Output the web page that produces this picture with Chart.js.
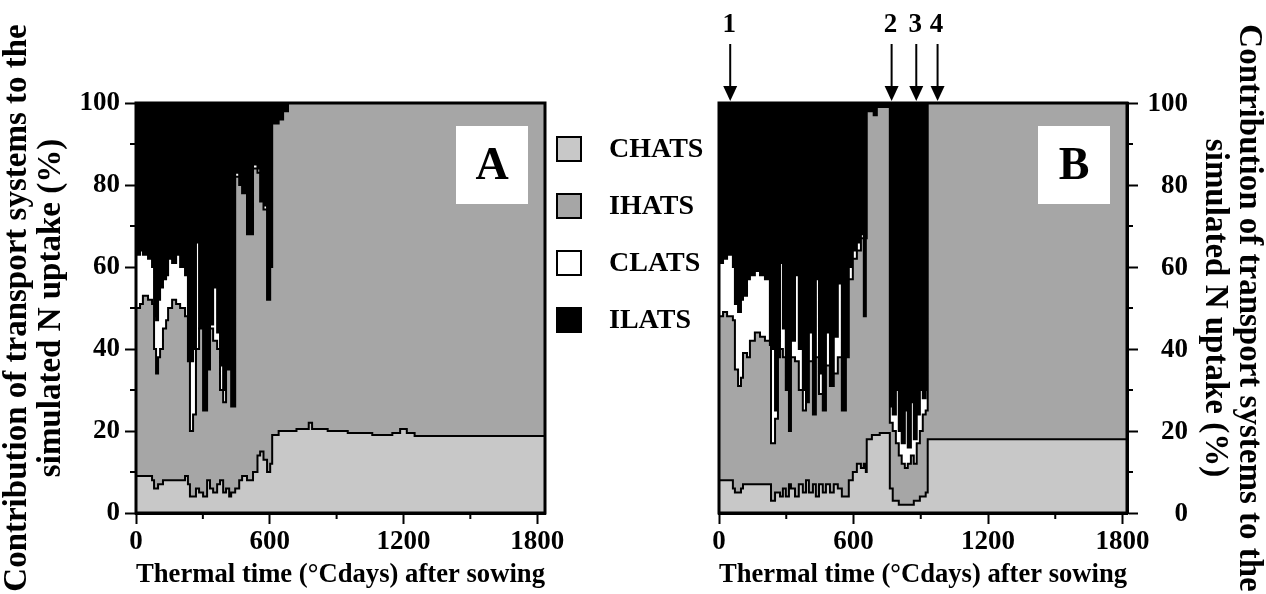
<!DOCTYPE html>
<html>
<head>
<meta charset="utf-8">
<script src="https://cdn.jsdelivr.net/npm/chart.js@4.4.0/dist/chart.umd.min.js"></script>
<style>
  html, body { margin: 0; padding: 0; background: #fff; }
  body { width: 1266px; height: 594px; position: relative; overflow: hidden;
         font-family: 'Liberation Serif', 'Times New Roman', serif; }
  #wrapA { position: absolute; left: 0; top: 0; width: 600px; height: 594px; }
  #wrapB { position: absolute; left: 700px; top: 0; width: 566px; height: 594px; }
  .item { position: absolute; left: 556px; height: 26px; font-weight: bold; font-size: 28px; white-space: nowrap; }
  .swatch { position: absolute; left: 0; top: 0; width: 22px; height: 22px; border: 2px solid #000; }
  .item span { position: absolute; left: 53px; top: 50%; transform: translateY(-52%); }
</style>
</head>
<body>
<div id="wrapA"><canvas id="chartA" width="600" height="594"></canvas></div>
<div id="wrapB"><canvas id="chartB" width="566" height="594"></canvas></div>
<div id="legend"></div>
<script>
// series (bottom to top of the stack)
const seriesNames = ['CHATS', 'IHATS', 'CLATS', 'ILATS'];
const seriesColors = ['#c8c8c8', '#a6a6a6', '#ffffff', '#000000'];
const stackTotal = 100;

// axis ticks
const xTicks = [0, 600, 1200, 1800];
const xMinor = [300, 900, 1500];
const yTicks = [0, 20, 40, 60, 80, 100];
const yMinor = [10, 30, 50, 70, 90];

// Panel A: thermal time and upper edge of each band (cumulative %)
const timeA = [0, 18, 31, 54, 72, 81, 90, 99, 108, 121, 135, 144, 162, 180, 198, 220, 233, 242, 256, 269,
  283, 301, 319, 332, 346, 364, 377, 391, 404, 418, 427, 445, 463, 476, 498, 525, 545, 557, 572, 588,
  602, 611, 640, 660, 682, 720, 775, 790, 860, 950, 1060, 1150, 1185, 1215, 1250, 1835];
const chatsTopA = [9, 9, 9, 9, 8, 6, 6, 7, 7, 8, 8, 8, 8, 8, 8, 9, 7, 4, 4, 6,
  5, 4, 8, 6, 5, 7, 8, 5, 6, 4, 5, 6, 8, 9, 8, 10, 14, 15, 13, 10,
  12, 19, 20, 20, 20, 20.5, 22, 20.5, 20, 19.5, 19, 19.5, 20.5, 19.5, 18.8, 18.8];
const ihatsTopA = [50, 51, 53, 52, 51, 40, 34, 38, 40, 45, 47, 50, 52, 51, 50, 48, 37, 20, 24, 40,
  45, 25, 35, 45, 42, 40, 30, 27, 35, 45, 26, 82, 80, 78, 68, 84, 83, 76, 74, 52,
  60, 95, 96, 98, 100, 100, 100, 100, 100, 100, 100, 100, 100, 100, 100, 100];
const clatsTopA = [63, 64, 63, 62, 60, 48, 47, 52, 55, 57, 58, 62, 61, 63, 60, 58, 37, 37, 40, 66,
  45, 25, 35, 46, 55, 44, 36, 30, 35, 45, 26, 83, 80, 78, 68, 85, 84, 76, 75, 52,
  60, 95, 96, 98, 100, 100, 100, 100, 100, 100, 100, 100, 100, 100, 100, 100];

// Panel B
const timeB = [0, 18, 36, 62, 71, 85, 98, 107, 125, 138, 160, 183, 205, 227, 232, 250, 263, 272, 285, 298,
  312, 321, 339, 356, 374, 388, 401, 419, 432, 446, 463, 477, 495, 512, 530, 548, 566, 579, 597, 615,
  633, 646, 655, 659, 682, 690, 704, 717, 762, 775, 789, 802, 815, 829, 842, 856, 869, 882, 896, 909,
  922, 931, 1820];
const chatsTopB = [8, 8, 8, 6, 5, 5, 6, 7, 7, 7, 7, 7, 7, 7, 3, 5, 5, 4, 6, 4,
  7, 6, 4, 7, 5, 8, 5, 7, 4, 7, 5, 7, 5, 7, 6, 4, 4, 8, 10, 12,
  11, 12, 10, 18, 19, 19, 19, 19.5, 6, 3, 3, 2, 2, 2, 2, 2, 3, 3, 4, 4,
  5, 18, 18];
const ihatsTopB = [48, 49, 48, 47, 35, 31, 33, 39, 38, 42, 44, 43, 42, 41, 17, 23, 38, 40, 38, 30,
  20, 38, 37, 30, 25, 27, 37, 24, 38, 29, 25, 36, 31, 34, 38, 25, 38, 57, 62, 64,
  67, 48, 67, 98, 99, 97, 99, 99, 22, 20, 17, 14, 12, 11, 12, 14, 12, 17, 20, 24,
  25, 100, 100];
const clatsTopB = [61, 62, 63, 60, 51, 49, 52, 53, 57, 58, 59, 58, 57, 41, 40, 25, 38, 61, 45, 30,
  20, 42, 58, 40, 30, 27, 44, 24, 57, 34, 25, 44, 31, 43, 56, 25, 38, 60, 64, 66,
  68, 48, 67, 98, 99, 97, 99, 99, 26, 24, 30, 20, 17, 25, 16, 27, 18, 24, 30, 28,
  30, 100, 100];

// arrows above panel B
const arrowTimes = [50, 770, 880, 975];
const arrowLabels = ['1', '2', '3', '4'];

const FONT = "'Liberation Serif', 'Times New Roman', serif";
Chart.defaults.font.family = FONT;
Chart.defaults.color = '#000';

function band(times, tops) {
  return times.map((t, i) => ({ x: t, y: tops[i] }));
}

function datasets(times, chatsTop, ihatsTop, clatsTop) {
  const tops = [chatsTop, ihatsTop, clatsTop, times.map(() => stackTotal)];
  return tops.map((top, i) => ({
    label: seriesNames[i],
    data: band(times, top),
    fill: i === 0 ? 'origin' : '-1',
    backgroundColor: seriesColors[i],
    borderColor: '#000',
    borderWidth: i === 3 ? 0 : 2,
    stepped: true,
    pointRadius: 0,
    tension: 0
  }));
}

// box, minor ticks, right-hand labels, panel letter, arrows
const decor = {
  id: 'decor',
  afterDraw(chart, args, opts) {
    const { ctx, chartArea: a, scales } = chart;
    ctx.save();
    ctx.strokeStyle = '#000';
    ctx.lineWidth = 3;
    ctx.strokeRect(a.left, a.top, a.right - a.left, a.bottom - a.top);
    ctx.lineWidth = 2;
    ctx.beginPath();
    xMinor.forEach(v => {
      const px = scales.x.getPixelForValue(v);
      ctx.moveTo(px, a.bottom); ctx.lineTo(px, a.bottom + 6);
    });
    yMinor.forEach(v => {
      const py = scales.y.getPixelForValue(v);
      if (opts.side === 'left') { ctx.moveTo(a.left, py); ctx.lineTo(a.left - 6, py); }
      else { ctx.moveTo(a.right, py); ctx.lineTo(a.right + 6, py); }
    });
    ctx.stroke();

    ctx.fillStyle = '#000';
    if (opts.side === 'right') {
      ctx.font = 'bold 27px ' + FONT;
      ctx.textAlign = 'right';
      ctx.textBaseline = 'middle';
      yTicks.forEach(v => {
        ctx.fillText(String(v), a.right + 61, scales.y.getPixelForValue(v) + 1);
      });
    }

    ctx.fillStyle = '#fff';
    ctx.fillRect(a.right - 89, a.top + 23, 72, 78);
    ctx.fillStyle = '#000';
    ctx.font = 'bold 46px ' + FONT;
    ctx.textAlign = 'center';
    ctx.textBaseline = 'middle';
    ctx.fillText(opts.letter, a.right - 53, a.top + 64);

    if (opts.arrows) {
      ctx.font = 'bold 27px ' + FONT;
      ctx.lineWidth = 2;
      arrowTimes.forEach((t, i) => {
        const px = scales.x.getPixelForValue(t);
        ctx.fillText(arrowLabels[i], px - 1, 25);
        ctx.beginPath();
        ctx.moveTo(px, 44); ctx.lineTo(px, 88);
        ctx.stroke();
        ctx.beginPath();
        ctx.moveTo(px - 7, 86); ctx.lineTo(px + 7, 86); ctx.lineTo(px, 101);
        ctx.closePath();
        ctx.fill();
      });
    }
    ctx.restore();
  }
};

function makeChart(id, times, chatsTop, ihatsTop, clatsTop, xMax, side, letter, pad, yWidth) {
  const titleLines = ['Contribution of transport systems to the', 'simulated N uptake (%)'];
  return new Chart(document.getElementById(id), {
    type: 'line',
    data: { datasets: datasets(times, chatsTop, ihatsTop, clatsTop) },
    options: {
      responsive: false,
      animation: false,
      layout: { padding: pad },
      plugins: {
        legend: { display: false },
        tooltip: { enabled: false },
        decor: { side: side, letter: letter, arrows: side === 'right' }
      },
      scales: {
        x: {
          type: 'linear',
          min: 0,
          max: xMax,
          afterBuildTicks: s => { s.ticks = xTicks.map(v => ({ value: v })); },
          afterFit: s => { s.height = 81; },
          ticks: { font: { size: 27, weight: 'bold' }, padding: 2, autoSkip: false, maxRotation: 0,
                   callback: v => String(v) },
          grid: { drawOnChartArea: false, tickLength: 11, tickWidth: 2, tickColor: '#000' },
          border: { display: true, width: 3, color: '#000' },
          title: {
            display: true,
            text: 'Thermal time (°Cdays) after sowing',
            font: { size: 28, weight: 'bold', lineHeight: 1.2 },
            padding: { top: 0, bottom: 2 }
          }
        },
        y: {
          position: side,
          min: 0,
          max: 100,
          afterBuildTicks: s => { s.ticks = yTicks.map(v => ({ value: v })); },
          afterFit: s => { s.width = yWidth; },
          ticks: { font: { size: 27, weight: 'bold' }, padding: 5, callback: v => String(v),
                   color: side === 'right' ? 'rgba(0,0,0,0)' : '#000' },
          grid: { drawOnChartArea: false, tickLength: 11, tickWidth: 2, tickColor: '#000' },
          border: { display: true, width: 3, color: '#000' },
          title: {
            display: true,
            text: titleLines,
            font: { size: 33, weight: 'bold', lineHeight: 1.03 },
            padding: 0
          }
        }
      }
    },
    plugins: [decor]
  });
}

makeChart('chartA', timeA, chatsTopA, ihatsTopA, clatsTopA, 1835, 'left', 'A',
  { top: 103, right: 55, left: 0, bottom: 0 }, 136);
makeChart('chartB', timeB, chatsTopB, ihatsTopB, clatsTopB, 1820, 'right', 'B',
  { top: 103, right: 0, left: 19, bottom: 0 }, 139);

// legend between the panels
const legendTops = [136, 193, 250, 307];
const legend = document.getElementById('legend');
seriesNames.forEach((name, i) => {
  const item = document.createElement('div');
  item.className = 'item';
  item.style.top = legendTops[i] + 'px';
  item.innerHTML = '<div class="swatch" style="background:' + seriesColors[i] + '"></div><span>' + name + '</span>';
  legend.appendChild(item);
});
</script>
</body>
</html>
